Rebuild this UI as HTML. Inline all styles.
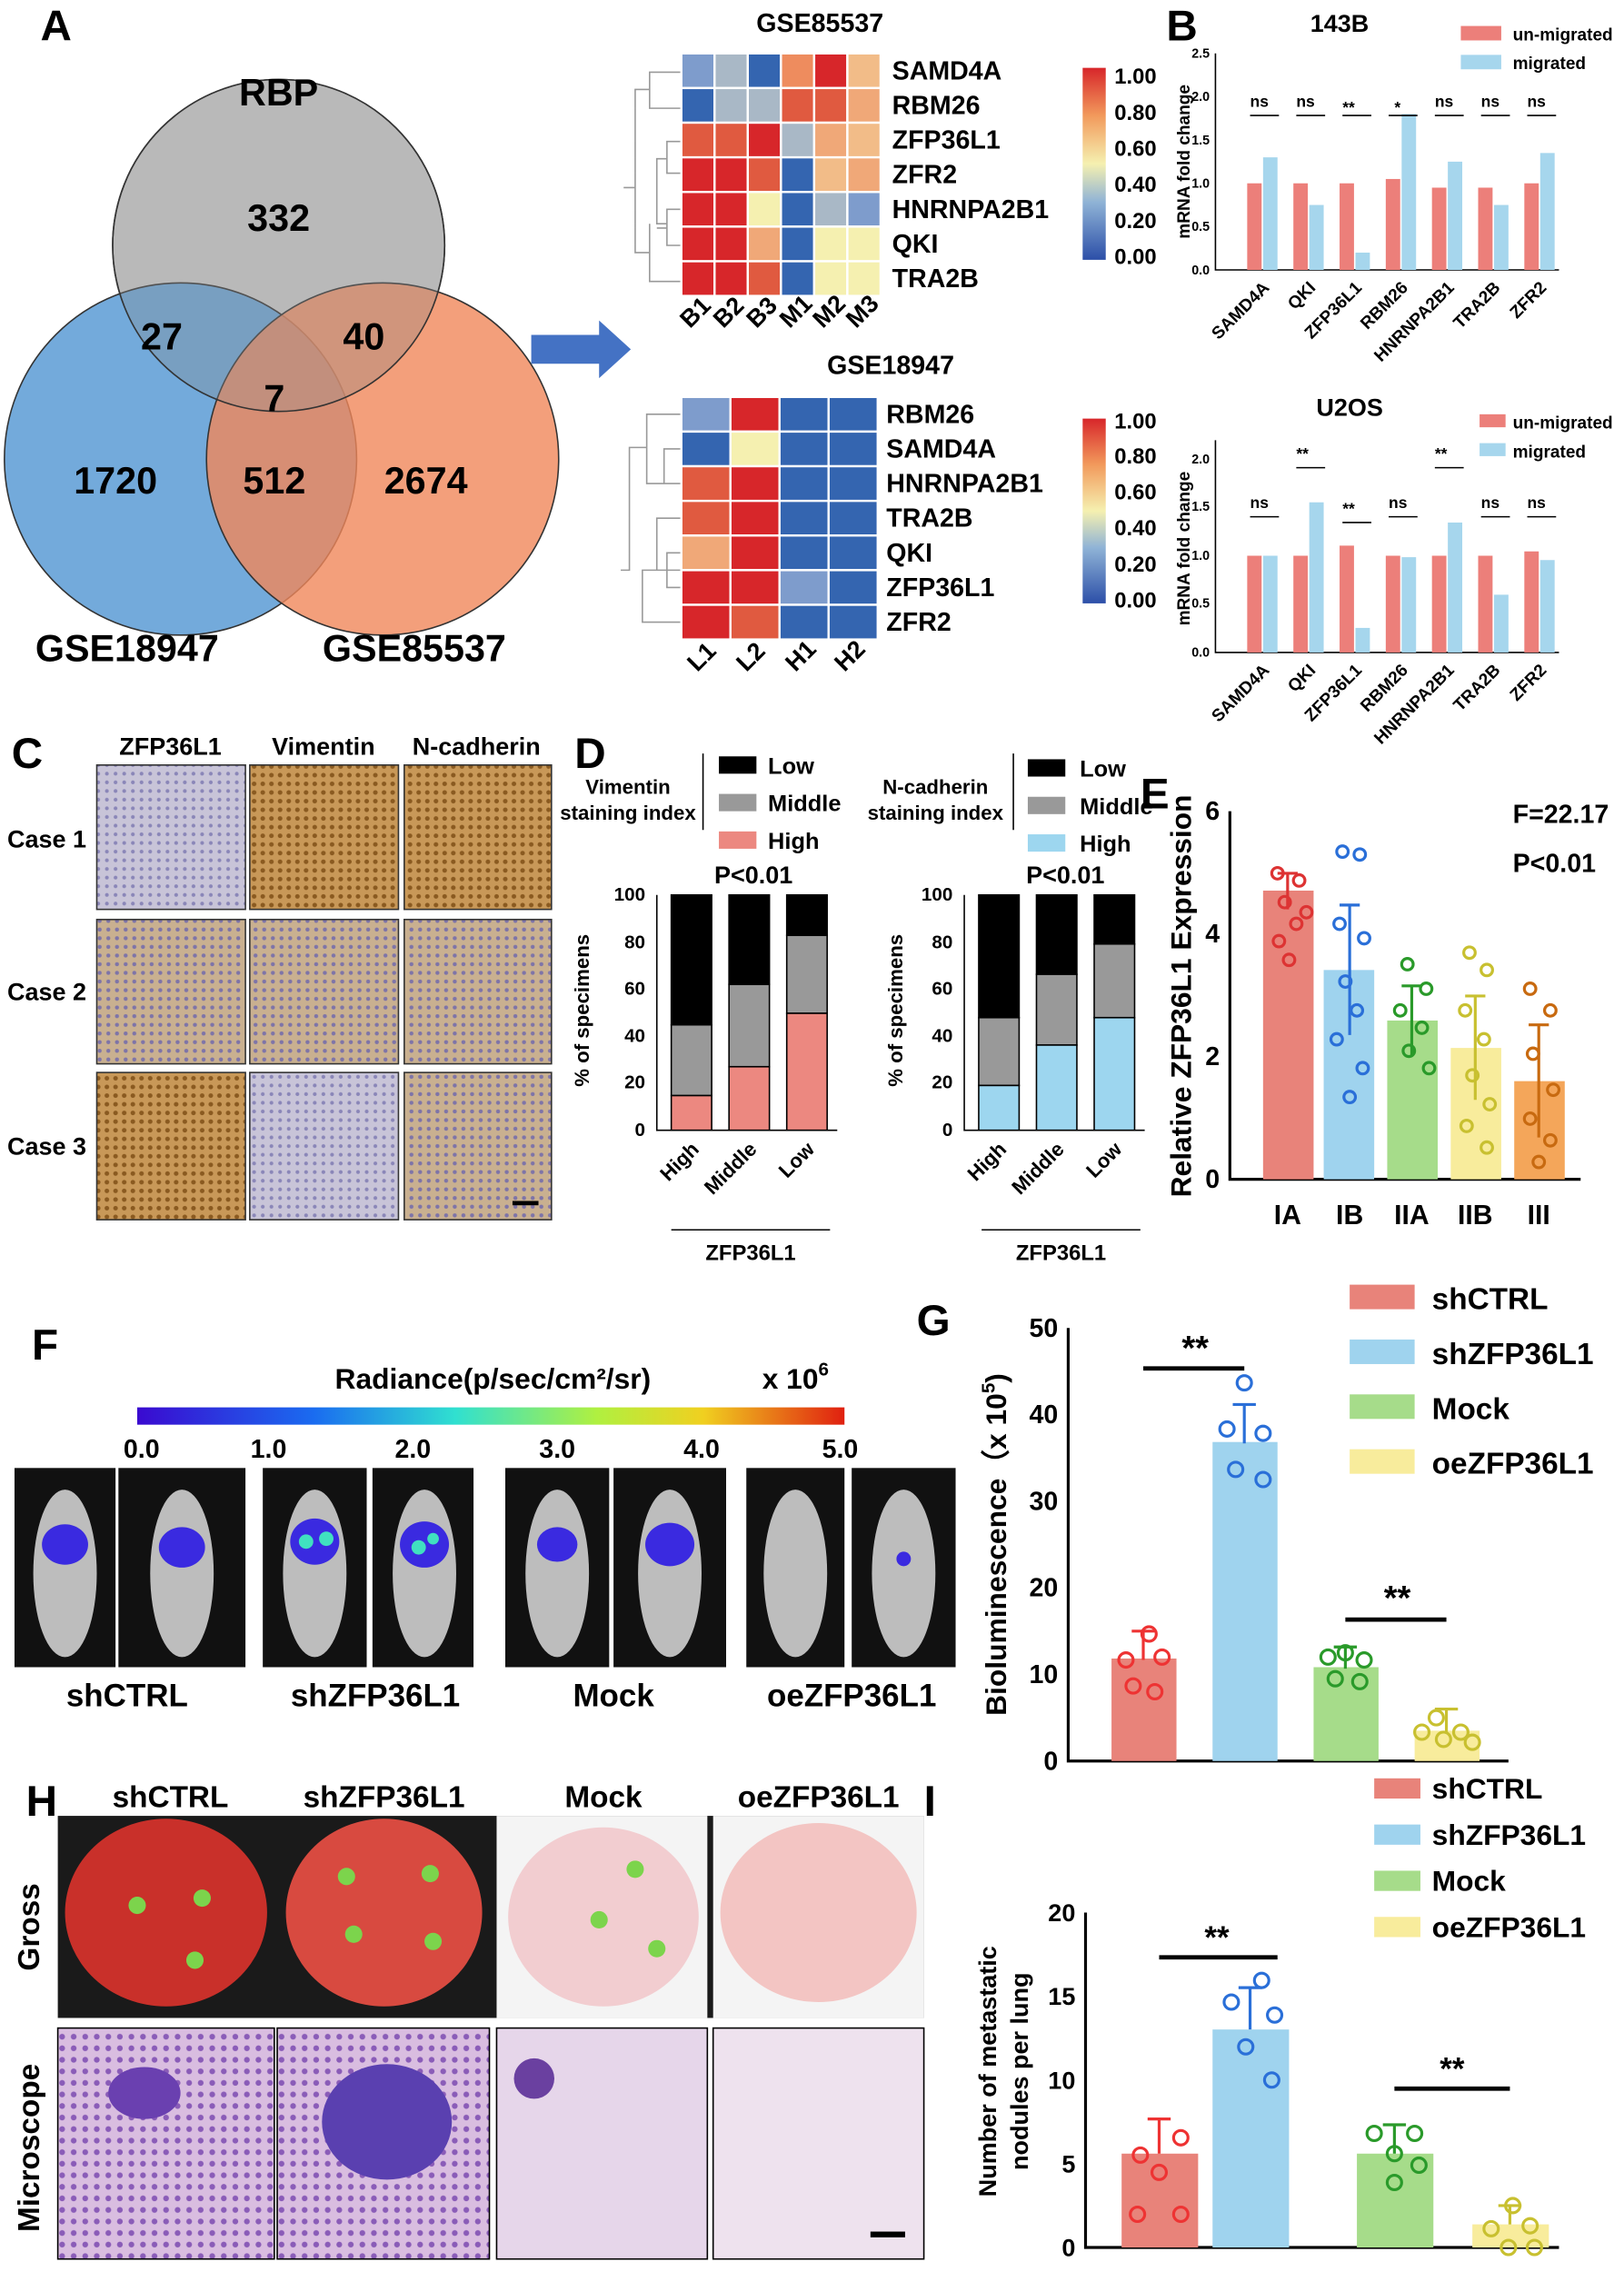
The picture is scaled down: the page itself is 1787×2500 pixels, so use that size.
<!DOCTYPE html>
<html><head><meta charset="utf-8"><style>html,body{margin:0;padding:0;background:#fff}svg{display:block}text{font-family:"Liberation Sans",sans-serif}</style></head><body>
<svg width="1787" height="2500" viewBox="0 0 1125 1574" xmlns="http://www.w3.org/2000/svg">
<defs>
<linearGradient id="cb" x1="0" y1="1" x2="0" y2="0"><stop offset="0" stop-color="#2c4fa8"/><stop offset=".3" stop-color="#8fb3d6"/><stop offset=".5" stop-color="#f5f0b0"/><stop offset=".75" stop-color="#f29a5c"/><stop offset="1" stop-color="#d7262a"/></linearGradient>
<linearGradient id="rad" x1="0" x2="1"><stop offset="0" stop-color="#3a0ad0"/><stop offset=".25" stop-color="#1a6cf0"/><stop offset=".45" stop-color="#30e0d0"/><stop offset=".65" stop-color="#b0f040"/><stop offset=".8" stop-color="#f0d020"/><stop offset="1" stop-color="#e02010"/></linearGradient>
<pattern id="ihcB" width="6" height="6" patternUnits="userSpaceOnUse"><rect width="6" height="6" fill="#c8c4d8"/><circle cx="2" cy="2" r="1.3" fill="#8a86b8"/></pattern>
<pattern id="ihcO" width="6" height="6" patternUnits="userSpaceOnUse"><rect width="6" height="6" fill="#c89858"/><circle cx="2" cy="3" r="1.6" fill="#8a5a20"/></pattern>
<pattern id="ihcM" width="6" height="6" patternUnits="userSpaceOnUse"><rect width="6" height="6" fill="#c9b090"/><circle cx="3" cy="2" r="1.4" fill="#7e74a8"/></pattern>
<pattern id="he" width="8" height="8" patternUnits="userSpaceOnUse"><rect width="8" height="8" fill="#d9bde0"/><circle cx="3" cy="3" r="2" fill="#8a5cb8"/></pattern>
</defs>
<g font-weight="bold">
<!-- A -->
<text x="28" y="28" font-size="30">A</text>
<circle cx="193" cy="170" r="115" fill="#c8c8c8" stroke="#333"/>
<circle cx="125" cy="318" r="122" fill="#5b9bd5" fill-opacity=".85" stroke="#333"/>
<circle cx="265" cy="318" r="122" fill="#f0875a" fill-opacity=".8" stroke="#333"/>
<circle cx="193" cy="170" r="115" fill="#999" fill-opacity=".3" stroke="#333"/>
<g font-size="26" text-anchor="middle">
<text x="193" y="73">RBP</text><text x="193" y="160">332</text><text x="112" y="242">27</text><text x="252" y="242">40</text><text x="190" y="285">7</text><text x="80" y="342">1720</text><text x="190" y="342">512</text><text x="295" y="342">2674</text><text x="88" y="458">GSE18947</text><text x="287" y="458">GSE85537</text></g>
<polygon points="368,232 415,232 415,222 437,242 415,262 415,252 368,252" fill="#4472c4"/>
<!-- heatmap 1 -->
<text x="568" y="22" font-size="18" text-anchor="middle">GSE85537</text>
<g stroke="#999" fill="none"><path d="M472,50 H450 V75 H472 M450,62 H440 V130 H432 M472,98 H462 V120 H472 M462,110 H455 V155 H462 M472,145 H462 V170 H472 M462,158 H455 M472,195 H450 V155 M440,130 V175 H450"/></g>
<g stroke="#fff" stroke-width="1.5">
<rect x="472" y="37" width="23" height="24" fill="#7e9ccc"/><rect x="495" y="37" width="23" height="24" fill="#a9b8c6"/><rect x="518" y="37" width="23" height="24" fill="#3465b0"/><rect x="541" y="37" width="23" height="24" fill="#ee8c5e"/><rect x="564" y="37" width="23" height="24" fill="#d7262a"/><rect x="587" y="37" width="23" height="24" fill="#f2bc88"/>
<rect x="472" y="61" width="23" height="24" fill="#3465b0"/><rect x="495" y="61" width="23" height="24" fill="#a9b8c6"/><rect x="518" y="61" width="23" height="24" fill="#a9b8c6"/><rect x="541" y="61" width="23" height="24" fill="#e05a40"/><rect x="564" y="61" width="23" height="24" fill="#e05a40"/><rect x="587" y="61" width="23" height="24" fill="#f0a878"/>
<rect x="472" y="85" width="23" height="24" fill="#e05a40"/><rect x="495" y="85" width="23" height="24" fill="#e05a40"/><rect x="518" y="85" width="23" height="24" fill="#d7262a"/><rect x="541" y="85" width="23" height="24" fill="#a9b8c6"/><rect x="564" y="85" width="23" height="24" fill="#f0a878"/><rect x="587" y="85" width="23" height="24" fill="#f2bc88"/>
<rect x="472" y="109" width="23" height="24" fill="#d7262a"/><rect x="495" y="109" width="23" height="24" fill="#d7262a"/><rect x="518" y="109" width="23" height="24" fill="#e05a40"/><rect x="541" y="109" width="23" height="24" fill="#3465b0"/><rect x="564" y="109" width="23" height="24" fill="#f2bc88"/><rect x="587" y="109" width="23" height="24" fill="#f0a878"/>
<rect x="472" y="133" width="23" height="24" fill="#d7262a"/><rect x="495" y="133" width="23" height="24" fill="#d7262a"/><rect x="518" y="133" width="23" height="24" fill="#f5f0b0"/><rect x="541" y="133" width="23" height="24" fill="#3465b0"/><rect x="564" y="133" width="23" height="24" fill="#a9b8c6"/><rect x="587" y="133" width="23" height="24" fill="#7e9ccc"/>
<rect x="472" y="157" width="23" height="24" fill="#d7262a"/><rect x="495" y="157" width="23" height="24" fill="#d7262a"/><rect x="518" y="157" width="23" height="24" fill="#f0a878"/><rect x="541" y="157" width="23" height="24" fill="#3465b0"/><rect x="564" y="157" width="23" height="24" fill="#f5f0b0"/><rect x="587" y="157" width="23" height="24" fill="#f5f0b0"/>
<rect x="472" y="181" width="23" height="24" fill="#d7262a"/><rect x="495" y="181" width="23" height="24" fill="#d7262a"/><rect x="518" y="181" width="23" height="24" fill="#e05a40"/><rect x="541" y="181" width="23" height="24" fill="#3465b0"/><rect x="564" y="181" width="23" height="24" fill="#f5f0b0"/><rect x="587" y="181" width="23" height="24" fill="#f5f0b0"/>
</g>
<g font-size="18"><text x="618" y="55">SAMD4A</text><text x="618" y="79">RBM26</text><text x="618" y="103">ZFP36L1</text><text x="618" y="127">ZFR2</text><text x="618" y="151">HNRNPA2B1</text><text x="618" y="175">QKI</text><text x="618" y="199">TRA2B</text></g>
<g font-size="17"><text transform="translate(478,228) rotate(-45)">B1</text><text transform="translate(501,228) rotate(-45)">B2</text><text transform="translate(524,228) rotate(-45)">B3</text><text transform="translate(547,228) rotate(-45)">M1</text><text transform="translate(570,228) rotate(-45)">M2</text><text transform="translate(593,228) rotate(-45)">M3</text></g>
<rect x="750" y="47" width="16" height="133" fill="url(#cb)"/>
<g font-size="15"><text x="772" y="58">1.00</text><text x="772" y="83">0.80</text><text x="772" y="108">0.60</text><text x="772" y="133">0.40</text><text x="772" y="158">0.20</text><text x="772" y="183">0.00</text></g>
<!-- heatmap 2 -->
<text x="617" y="259" font-size="18" text-anchor="middle">GSE18947</text>
<g stroke="#999" fill="none"><path d="M472,287 H448 V335 H472 M448,310 H436 V395 H430 M472,311 H460 V335 M472,359 H455 V395 H472 M472,383 H462 V407 H472 M472,431 H445 V395 H455"/></g>
<g stroke="#fff" stroke-width="1.5">
<rect x="472" y="275" width="34" height="24" fill="#7e9ccc"/><rect x="506" y="275" width="34" height="24" fill="#d7262a"/><rect x="540" y="275" width="34" height="24" fill="#3465b0"/><rect x="574" y="275" width="34" height="24" fill="#3465b0"/>
<rect x="472" y="299" width="34" height="24" fill="#3465b0"/><rect x="506" y="299" width="34" height="24" fill="#f5f0b0"/><rect x="540" y="299" width="34" height="24" fill="#3465b0"/><rect x="574" y="299" width="34" height="24" fill="#3465b0"/>
<rect x="472" y="323" width="34" height="24" fill="#e05a40"/><rect x="506" y="323" width="34" height="24" fill="#d7262a"/><rect x="540" y="323" width="34" height="24" fill="#3465b0"/><rect x="574" y="323" width="34" height="24" fill="#3465b0"/>
<rect x="472" y="347" width="34" height="24" fill="#e05a40"/><rect x="506" y="347" width="34" height="24" fill="#d7262a"/><rect x="540" y="347" width="34" height="24" fill="#3465b0"/><rect x="574" y="347" width="34" height="24" fill="#3465b0"/>
<rect x="472" y="371" width="34" height="24" fill="#f0a878"/><rect x="506" y="371" width="34" height="24" fill="#d7262a"/><rect x="540" y="371" width="34" height="24" fill="#3465b0"/><rect x="574" y="371" width="34" height="24" fill="#3465b0"/>
<rect x="472" y="395" width="34" height="24" fill="#d7262a"/><rect x="506" y="395" width="34" height="24" fill="#d7262a"/><rect x="540" y="395" width="34" height="24" fill="#7e9ccc"/><rect x="574" y="395" width="34" height="24" fill="#3465b0"/>
<rect x="472" y="419" width="34" height="24" fill="#d7262a"/><rect x="506" y="419" width="34" height="24" fill="#e05a40"/><rect x="540" y="419" width="34" height="24" fill="#3465b0"/><rect x="574" y="419" width="34" height="24" fill="#3465b0"/>
</g>
<g font-size="18"><text x="614" y="293">RBM26</text><text x="614" y="317">SAMD4A</text><text x="614" y="341">HNRNPA2B1</text><text x="614" y="365">TRA2B</text><text x="614" y="389">QKI</text><text x="614" y="413">ZFP36L1</text><text x="614" y="437">ZFR2</text></g>
<g font-size="17"><text transform="translate(483,466) rotate(-45)">L1</text><text transform="translate(517,466) rotate(-45)">L2</text><text transform="translate(551,466) rotate(-45)">H1</text><text transform="translate(585,466) rotate(-45)">H2</text></g>
<rect x="750" y="290" width="16" height="128" fill="url(#cb)"/>
<g font-size="15"><text x="772" y="297">1.00</text><text x="772" y="321">0.80</text><text x="772" y="346">0.60</text><text x="772" y="371">0.40</text><text x="772" y="396">0.20</text><text x="772" y="421">0.00</text></g>
<!-- B -->
<text x="808" y="28" font-size="30">B</text>
<text x="928" y="22" font-size="17" text-anchor="middle">143B</text>
<text x="935" y="288" font-size="17" text-anchor="middle">U2OS</text>
<g font-size="12"><rect x="1012" y="18" width="28" height="10" fill="#ec7f7a"/><text x="1048" y="28">un-migrated</text><rect x="1012" y="38" width="28" height="10" fill="#a6d6ed"/><text x="1048" y="48">migrated</text>
<rect x="1025" y="287" width="18" height="9" fill="#ec7f7a"/><text x="1048" y="297">un-migrated</text><rect x="1025" y="307" width="18" height="9" fill="#a6d6ed"/><text x="1048" y="317">migrated</text></g>
<g>
<path d="M842,37 V187 H1080" stroke="#000" fill="none"/>
<g font-size="9" text-anchor="end"><text x="838" y="190">0.0</text><text x="838" y="160">0.5</text><text x="838" y="130">1.0</text><text x="838" y="100">1.5</text><text x="838" y="70">2.0</text><text x="838" y="40">2.5</text></g>
<text transform="translate(824,112) rotate(-90)" font-size="12" text-anchor="middle">mRNA fold change</text>
<g fill="#ec7f7a"><rect x="864" y="127" width="10" height="60"/><rect x="896" y="127" width="10" height="60"/><rect x="928" y="127" width="10" height="60"/><rect x="960" y="124" width="10" height="63"/><rect x="992" y="130" width="10" height="57"/><rect x="1024" y="130" width="10" height="57"/><rect x="1056" y="127" width="10" height="60"/></g>
<g fill="#a6d6ed"><rect x="875" y="109" width="10" height="78"/><rect x="907" y="142" width="10" height="45"/><rect x="939" y="175" width="10" height="12"/><rect x="971" y="79" width="10" height="108"/><rect x="1003" y="112" width="10" height="75"/><rect x="1035" y="142" width="10" height="45"/><rect x="1067" y="106" width="10" height="81"/></g>
<g font-size="11"><text x="866" y="74">ns</text><text x="898" y="74">ns</text><text x="930" y="78">**</text><text x="966" y="78">*</text><text x="994" y="74">ns</text><text x="1026" y="74">ns</text><text x="1058" y="74">ns</text></g>
<g stroke="#000"><path d="M866,80h20M898,80h20M930,80h20M962,80h20M994,80h20M1026,80h20M1058,80h20"/></g>
<g font-size="12" text-anchor="end"><text transform="translate(880,200) rotate(-45)">SAMD4A</text><text transform="translate(912,200) rotate(-45)">QKI</text><text transform="translate(944,200) rotate(-45)">ZFP36L1</text><text transform="translate(976,200) rotate(-45)">RBM26</text><text transform="translate(1008,200) rotate(-45)">HNRNPA2B1</text><text transform="translate(1040,200) rotate(-45)">TRA2B</text><text transform="translate(1072,200) rotate(-45)">ZFR2</text></g>
</g>
<g>
<path d="M842,305 V452 H1080" stroke="#000" fill="none"/>
<g font-size="9" text-anchor="end"><text x="838" y="455">0.0</text><text x="838" y="421">0.5</text><text x="838" y="388">1.0</text><text x="838" y="354">1.5</text><text x="838" y="321">2.0</text></g>
<text transform="translate(824,380) rotate(-90)" font-size="12" text-anchor="middle">mRNA fold change</text>
<g fill="#ec7f7a"><rect x="864" y="385" width="10" height="67"/><rect x="896" y="385" width="10" height="67"/><rect x="928" y="378" width="10" height="74"/><rect x="960" y="385" width="10" height="67"/><rect x="992" y="385" width="10" height="67"/><rect x="1024" y="385" width="10" height="67"/><rect x="1056" y="382" width="10" height="70"/></g>
<g fill="#a6d6ed"><rect x="875" y="385" width="10" height="67"/><rect x="907" y="348" width="10" height="104"/><rect x="939" y="435" width="10" height="17"/><rect x="971" y="386" width="10" height="66"/><rect x="1003" y="362" width="10" height="90"/><rect x="1035" y="412" width="10" height="40"/><rect x="1067" y="388" width="10" height="64"/></g>
<g font-size="11"><text x="866" y="352">ns</text><text x="898" y="318">**</text><text x="930" y="356">**</text><text x="962" y="352">ns</text><text x="994" y="318">**</text><text x="1026" y="352">ns</text><text x="1058" y="352">ns</text></g>
<g stroke="#000"><path d="M866,358h20M898,324h20M930,362h20M962,358h20M994,324h20M1026,358h20M1058,358h20"/></g>
<g font-size="12" text-anchor="end"><text transform="translate(880,465) rotate(-45)">SAMD4A</text><text transform="translate(912,465) rotate(-45)">QKI</text><text transform="translate(944,465) rotate(-45)">ZFP36L1</text><text transform="translate(976,465) rotate(-45)">RBM26</text><text transform="translate(1008,465) rotate(-45)">HNRNPA2B1</text><text transform="translate(1040,465) rotate(-45)">TRA2B</text><text transform="translate(1072,465) rotate(-45)">ZFR2</text></g>
</g>
<!-- C -->
<text x="8" y="532" font-size="30">C</text>
<g font-size="17" text-anchor="middle"><text x="118" y="523">ZFP36L1</text><text x="224" y="523">Vimentin</text><text x="330" y="523">N-cadherin</text></g>
<g font-size="17"><text x="5" y="587">Case 1</text><text x="5" y="693">Case 2</text><text x="5" y="800">Case 3</text></g>
<g stroke="#333">
<rect x="67" y="530" width="103" height="100" fill="url(#ihcB)"/><rect x="173" y="530" width="103" height="100" fill="url(#ihcO)"/><rect x="280" y="530" width="102" height="100" fill="url(#ihcO)"/>
<rect x="67" y="637" width="103" height="100" fill="url(#ihcM)"/><rect x="173" y="637" width="103" height="100" fill="url(#ihcM)"/><rect x="280" y="637" width="102" height="100" fill="url(#ihcM)"/>
<rect x="67" y="743" width="103" height="102" fill="url(#ihcO)"/><rect x="173" y="743" width="103" height="102" fill="url(#ihcB)"/><rect x="280" y="743" width="102" height="102" fill="url(#ihcM)"/>
</g>
<rect x="355" y="832" width="18" height="3" fill="#000"/>
<!-- D -->
<text x="398" y="532" font-size="30">D</text>
<g font-size="14" text-anchor="middle"><text x="435" y="550">Vimentin</text><text x="435" y="568">staining index</text><text x="648" y="550">N-cadherin</text><text x="648" y="568">staining index</text></g>
<path d="M487,522 V575 M702,522 V575" stroke="#000"/>
<g font-size="16"><rect x="498" y="524" width="26" height="12" fill="#000"/><text x="532" y="536">Low</text><rect x="498" y="550" width="26" height="12" fill="#999"/><text x="532" y="562">Middle</text><rect x="498" y="576" width="26" height="12" fill="#ec8880"/><text x="532" y="588">High</text>
<rect x="712" y="526" width="26" height="12" fill="#000"/><text x="748" y="538">Low</text><rect x="712" y="552" width="26" height="12" fill="#999"/><text x="748" y="564">Middle</text><rect x="712" y="578" width="26" height="12" fill="#9dd6ef"/><text x="748" y="590">High</text></g>
<g font-size="17" text-anchor="middle"><text x="522" y="612">P&lt;0.01</text><text x="738" y="612">P&lt;0.01</text></g>
<g font-size="13" text-anchor="end"><text x="447" y="624">100</text><text x="447" y="657">80</text><text x="447" y="689">60</text><text x="447" y="722">40</text><text x="447" y="754">20</text><text x="447" y="787">0</text>
<text x="660" y="624">100</text><text x="660" y="657">80</text><text x="660" y="689">60</text><text x="660" y="722">40</text><text x="660" y="754">20</text><text x="660" y="787">0</text></g>
<text transform="translate(408,700) rotate(-90)" font-size="14" text-anchor="middle">% of specimens</text>
<text transform="translate(625,700) rotate(-90)" font-size="14" text-anchor="middle">% of specimens</text>
<path d="M455,620 V783 H580 M668,620 V783 H793" stroke="#000" fill="none"/>
<g stroke="#000"><rect x="465" y="620" width="28" height="90" fill="#000"/><rect x="465" y="710" width="28" height="49" fill="#999"/><rect x="465" y="759" width="28" height="24" fill="#ec8880"/>
<rect x="505" y="620" width="28" height="62" fill="#000"/><rect x="505" y="682" width="28" height="57" fill="#999"/><rect x="505" y="739" width="28" height="44" fill="#ec8880"/>
<rect x="545" y="620" width="28" height="28" fill="#000"/><rect x="545" y="648" width="28" height="54" fill="#999"/><rect x="545" y="702" width="28" height="81" fill="#ec8880"/>
<rect x="678" y="620" width="28" height="85" fill="#000"/><rect x="678" y="705" width="28" height="47" fill="#999"/><rect x="678" y="752" width="28" height="31" fill="#9dd6ef"/>
<rect x="718" y="620" width="28" height="55" fill="#000"/><rect x="718" y="675" width="28" height="49" fill="#999"/><rect x="718" y="724" width="28" height="59" fill="#9dd6ef"/>
<rect x="758" y="620" width="28" height="34" fill="#000"/><rect x="758" y="654" width="28" height="51" fill="#999"/><rect x="758" y="705" width="28" height="78" fill="#9dd6ef"/></g>
<g font-size="14" text-anchor="end"><text transform="translate(485,797) rotate(-45)">High</text><text transform="translate(525,797) rotate(-45)">Middle</text><text transform="translate(565,797) rotate(-45)">Low</text><text transform="translate(698,797) rotate(-45)">High</text><text transform="translate(738,797) rotate(-45)">Middle</text><text transform="translate(778,797) rotate(-45)">Low</text></g>
<path d="M465,852 H575 M680,852 H790" stroke="#000"/>
<g font-size="15" text-anchor="middle"><text x="520" y="873">ZFP36L1</text><text x="735" y="873">ZFP36L1</text></g>
<!-- E -->
<text x="790" y="560" font-size="30">E</text>
<text transform="translate(825,690) rotate(-90)" font-size="20" text-anchor="middle">Relative ZFP36L1 Expression</text>
<path d="M852,562 V817 H1095" stroke="#000" stroke-width="2" fill="none"/>
<g font-size="18" text-anchor="end"><text x="845" y="568">6</text><text x="845" y="653">4</text><text x="845" y="738">2</text><text x="845" y="823">0</text></g>
<text x="1048" y="570" font-size="18">F=22.17</text><text x="1048" y="604" font-size="18">P&lt;0.01</text>
<rect x="875" y="617" width="35" height="200" fill="#e8837a"/><rect x="917" y="672" width="35" height="145" fill="#9fd3ee"/><rect x="961" y="707" width="35" height="110" fill="#a6dc8a"/><rect x="1005" y="726" width="35" height="91" fill="#f8ec9c"/><rect x="1049" y="749" width="35" height="68" fill="#f4a65a"/>
<g stroke-width="2" fill="none"><path d="M892,605 V630 M885,605h14" stroke="#d33"/><path d="M935,627 V717 M928,627h14" stroke="#2a6fd8"/><path d="M978,683 V731 M971,683h14" stroke="#2a9a2a"/><path d="M1022,690 V762 M1015,690h14" stroke="#c8c030"/><path d="M1066,710 V788 M1059,710h14" stroke="#c86a10"/>
<g stroke="#d33"><circle cx="885" cy="605" r="4"/><circle cx="900" cy="610" r="4"/><circle cx="890" cy="625" r="4"/><circle cx="898" cy="640" r="4"/><circle cx="886" cy="652" r="4"/><circle cx="893" cy="665" r="4"/><circle cx="905" cy="632" r="4"/></g>
<g stroke="#2a6fd8"><circle cx="930" cy="590" r="4"/><circle cx="942" cy="592" r="4"/><circle cx="928" cy="640" r="4"/><circle cx="945" cy="650" r="4"/><circle cx="932" cy="680" r="4"/><circle cx="940" cy="700" r="4"/><circle cx="926" cy="720" r="4"/><circle cx="944" cy="740" r="4"/><circle cx="935" cy="760" r="4"/></g>
<g stroke="#2a9a2a"><circle cx="975" cy="668" r="4"/><circle cx="988" cy="685" r="4"/><circle cx="970" cy="700" r="4"/><circle cx="985" cy="712" r="4"/><circle cx="976" cy="728" r="4"/><circle cx="990" cy="740" r="4"/></g>
<g stroke="#c8c030"><circle cx="1018" cy="660" r="4"/><circle cx="1030" cy="672" r="4"/><circle cx="1015" cy="700" r="4"/><circle cx="1028" cy="720" r="4"/><circle cx="1020" cy="745" r="4"/><circle cx="1032" cy="765" r="4"/><circle cx="1016" cy="780" r="4"/><circle cx="1030" cy="795" r="4"/></g>
<g stroke="#c86a10"><circle cx="1060" cy="685" r="4"/><circle cx="1074" cy="700" r="4"/><circle cx="1062" cy="730" r="4"/><circle cx="1076" cy="755" r="4"/><circle cx="1060" cy="775" r="4"/><circle cx="1074" cy="790" r="4"/><circle cx="1066" cy="805" r="4"/></g></g>
<g font-size="19" text-anchor="middle"><text x="892" y="848">IA</text><text x="935" y="848">IB</text><text x="978" y="848">IIA</text><text x="1022" y="848">IIB</text><text x="1066" y="848">III</text></g>
<!-- F -->
<text x="22" y="942" font-size="30">F</text>
<text x="232" y="962" font-size="20">Radiance(p/sec/cm²/sr)</text><text x="528" y="962" font-size="20">x 10<tspan font-size="13" dy="-9">6</tspan></text>
<rect x="95" y="975" width="490" height="12" fill="url(#rad)"/>
<g font-size="18" text-anchor="middle"><text x="98" y="1010">0.0</text><text x="186" y="1010">1.0</text><text x="286" y="1010">2.0</text><text x="386" y="1010">3.0</text><text x="486" y="1010">4.0</text><text x="582" y="1010">5.0</text></g>
<g fill="#111">
<rect x="10" y="1017" width="70" height="138"/><rect x="82" y="1017" width="88" height="138"/><rect x="182" y="1017" width="72" height="138"/><rect x="258" y="1017" width="70" height="138"/><rect x="350" y="1017" width="72" height="138"/><rect x="425" y="1017" width="78" height="138"/><rect x="517" y="1017" width="68" height="138"/><rect x="590" y="1017" width="72" height="138"/></g>
<g fill="#bdbdbd"><ellipse cx="45" cy="1090" rx="22" ry="58"/><ellipse cx="126" cy="1090" rx="22" ry="58"/><ellipse cx="218" cy="1090" rx="22" ry="58"/><ellipse cx="294" cy="1090" rx="22" ry="58"/><ellipse cx="386" cy="1090" rx="22" ry="58"/><ellipse cx="464" cy="1090" rx="22" ry="58"/><ellipse cx="551" cy="1090" rx="22" ry="58"/><ellipse cx="626" cy="1090" rx="22" ry="58"/></g>
<g fill="#3a2ae0"><ellipse cx="45" cy="1070" rx="16" ry="14"/><ellipse cx="126" cy="1072" rx="16" ry="14"/><ellipse cx="218" cy="1068" rx="17" ry="16"/><ellipse cx="294" cy="1070" rx="17" ry="16"/><ellipse cx="386" cy="1070" rx="14" ry="12"/><ellipse cx="464" cy="1070" rx="17" ry="15"/><ellipse cx="626" cy="1080" rx="5" ry="5"/></g>
<g fill="#40e0c0"><circle cx="212" cy="1068" r="5"/><circle cx="226" cy="1066" r="5"/><circle cx="290" cy="1072" r="5"/><circle cx="300" cy="1066" r="4"/></g>
<g font-size="22" text-anchor="middle"><text x="88" y="1182">shCTRL</text><text x="260" y="1182">shZFP36L1</text><text x="425" y="1182">Mock</text><text x="590" y="1182">oeZFP36L1</text></g>
<!-- G -->
<text x="635" y="925" font-size="30">G</text>
<text transform="translate(697,1070) rotate(-90)" font-size="20" text-anchor="middle">Bioluminescence（x 10<tspan font-size="13" dy="-8">5</tspan><tspan dy="8">)</tspan></text>
<path d="M740,920 V1220 H1045" stroke="#000" stroke-width="2" fill="none"/>
<g font-size="18" text-anchor="end"><text x="733" y="926">50</text><text x="733" y="986">40</text><text x="733" y="1046">30</text><text x="733" y="1106">20</text><text x="733" y="1166">10</text><text x="733" y="1226">0</text></g>
<g font-size="21"><rect x="935" y="890" width="45" height="17" fill="#e8837a"/><text x="992" y="907">shCTRL</text><rect x="935" y="928" width="45" height="17" fill="#9fd3ee"/><text x="992" y="945">shZFP36L1</text><rect x="935" y="966" width="45" height="17" fill="#a6dc8a"/><text x="992" y="983">Mock</text><rect x="935" y="1004" width="45" height="17" fill="#f8ec9c"/><text x="992" y="1021">oeZFP36L1</text></g>
<rect x="770" y="1149" width="45" height="71" fill="#e8837a"/><rect x="840" y="999" width="45" height="221" fill="#9fd3ee"/><rect x="910" y="1155" width="45" height="65" fill="#a6dc8a"/><rect x="980" y="1199" width="45" height="21" fill="#f8ec9c"/>
<g stroke-width="2" fill="none"><path d="M792,1130 V1150 M784,1130h16" stroke="#e33"/><path d="M862,973 V1000 M854,973h16" stroke="#2a6fd8"/><path d="M932,1141 V1156 M924,1141h16" stroke="#2a9a2a"/><path d="M1002,1184 V1200 M994,1184h16" stroke="#c8c030"/>
<g stroke="#e33"><circle cx="780" cy="1150" r="5"/><circle cx="796" cy="1132" r="5"/><circle cx="805" cy="1148" r="5"/><circle cx="785" cy="1168" r="5"/><circle cx="800" cy="1172" r="5"/></g>
<g stroke="#2a6fd8"><circle cx="862" cy="958" r="5"/><circle cx="850" cy="990" r="5"/><circle cx="875" cy="993" r="5"/><circle cx="856" cy="1018" r="5"/><circle cx="875" cy="1025" r="5"/></g>
<g stroke="#2a9a2a"><circle cx="920" cy="1148" r="5"/><circle cx="932" cy="1145" r="5"/><circle cx="945" cy="1150" r="5"/><circle cx="925" cy="1163" r="5"/><circle cx="942" cy="1165" r="5"/></g>
<g stroke="#c8c030"><circle cx="995" cy="1190" r="5"/><circle cx="985" cy="1200" r="5"/><circle cx="1000" cy="1205" r="5"/><circle cx="1012" cy="1200" r="5"/><circle cx="1020" cy="1207" r="5"/></g></g>
<path d="M792,948 H862 M932,1122 H1002" stroke="#000" stroke-width="3"/>
<g font-size="24" text-anchor="middle"><text x="828" y="942">**</text><text x="968" y="1115">**</text></g>
<!-- H -->
<text x="18" y="1258" font-size="30">H</text>
<g font-size="21" text-anchor="middle"><text x="118" y="1252">shCTRL</text><text x="266" y="1252">shZFP36L1</text><text x="418" y="1252">Mock</text><text x="567" y="1252">oeZFP36L1</text></g>
<text transform="translate(27,1335) rotate(-90)" font-size="21" text-anchor="middle">Gross</text>
<text transform="translate(27,1488) rotate(-90)" font-size="21" text-anchor="middle">Microscope</text>
<rect x="40" y="1258" width="600" height="140" fill="#1a1a1a"/>
<ellipse cx="115" cy="1325" rx="70" ry="65" fill="#c9302a"/><ellipse cx="266" cy="1325" rx="68" ry="65" fill="#d84a40"/>
<rect x="344" y="1258" width="146" height="140" fill="#f4f4f4"/><ellipse cx="418" cy="1328" rx="66" ry="62" fill="#f2cdd0"/>
<rect x="494" y="1258" width="146" height="140" fill="#f4f4f4"/><ellipse cx="567" cy="1325" rx="68" ry="62" fill="#f3c5c3"/>
<g fill="#7cd44c"><circle cx="95" cy="1320" r="6"/><circle cx="140" cy="1315" r="6"/><circle cx="135" cy="1358" r="6"/><circle cx="240" cy="1300" r="6"/><circle cx="298" cy="1298" r="6"/><circle cx="245" cy="1340" r="6"/><circle cx="300" cy="1345" r="6"/><circle cx="440" cy="1295" r="6"/><circle cx="415" cy="1330" r="6"/><circle cx="455" cy="1350" r="6"/></g>
<rect x="40" y="1405" width="150" height="160" fill="url(#he)" stroke="#000"/><rect x="192" y="1405" width="147" height="160" fill="url(#he)" stroke="#000"/><rect x="344" y="1405" width="146" height="160" fill="#e6d6ea" stroke="#000"/><rect x="494" y="1405" width="146" height="160" fill="#eee2ee" stroke="#000"/>
<ellipse cx="268" cy="1470" rx="45" ry="40" fill="#5a40b0"/><ellipse cx="100" cy="1450" rx="25" ry="18" fill="#6a40b0"/><ellipse cx="370" cy="1440" rx="14" ry="14" fill="#6a40a0"/>
<rect x="603" y="1546" width="24" height="4" fill="#000"/>
<!-- I -->
<text x="640" y="1258" font-size="30">I</text>
<g font-size="20"><rect x="952" y="1232" width="32" height="14" fill="#e8837a"/><text x="992" y="1246">shCTRL</text><rect x="952" y="1264" width="32" height="14" fill="#9fd3ee"/><text x="992" y="1278">shZFP36L1</text><rect x="952" y="1296" width="32" height="14" fill="#a6dc8a"/><text x="992" y="1310">Mock</text><rect x="952" y="1328" width="32" height="14" fill="#f8ec9c"/><text x="992" y="1342">oeZFP36L1</text></g>
<text transform="translate(690,1435) rotate(-90)" font-size="17" text-anchor="middle">Number of metastatic</text>
<text transform="translate(712,1435) rotate(-90)" font-size="17" text-anchor="middle">nodules per lung</text>
<path d="M752,1325 V1557 H1080" stroke="#000" stroke-width="2" fill="none"/>
<g font-size="17" text-anchor="end"><text x="745" y="1331">20</text><text x="745" y="1389">15</text><text x="745" y="1447">10</text><text x="745" y="1505">5</text><text x="745" y="1563">0</text></g>
<rect x="777" y="1492" width="53" height="65" fill="#e8837a"/><rect x="840" y="1406" width="53" height="151" fill="#9fd3ee"/><rect x="940" y="1492" width="53" height="65" fill="#a6dc8a"/><rect x="1020" y="1541" width="53" height="16" fill="#f8ec9c"/>
<g stroke-width="2" fill="none"><path d="M803,1468 V1492 M795,1468h16" stroke="#e33"/><path d="M866,1377 V1406 M858,1377h16" stroke="#2a6fd8"/><path d="M966,1472 V1492 M958,1472h16" stroke="#2a9a2a"/><path d="M1046,1528 V1541 M1038,1528h16" stroke="#c8c030"/>
<g stroke="#e33"><circle cx="790" cy="1493" r="5"/><circle cx="818" cy="1481" r="5"/><circle cx="803" cy="1505" r="5"/><circle cx="788" cy="1534" r="5"/><circle cx="818" cy="1534" r="5"/></g>
<g stroke="#2a6fd8"><circle cx="874" cy="1372" r="5"/><circle cx="853" cy="1387" r="5"/><circle cx="883" cy="1396" r="5"/><circle cx="863" cy="1418" r="5"/><circle cx="881" cy="1441" r="5"/></g>
<g stroke="#2a9a2a"><circle cx="952" cy="1478" r="5"/><circle cx="980" cy="1478" r="5"/><circle cx="966" cy="1492" r="5"/><circle cx="966" cy="1512" r="5"/><circle cx="983" cy="1500" r="5"/></g>
<g stroke="#c8c030"><circle cx="1048" cy="1528" r="5"/><circle cx="1033" cy="1544" r="5"/><circle cx="1060" cy="1542" r="5"/><circle cx="1045" cy="1557" r="5"/><circle cx="1063" cy="1557" r="5"/></g></g>
<path d="M803,1356 H885 M966,1447 H1046" stroke="#000" stroke-width="3"/>
<g font-size="22" text-anchor="middle"><text x="843" y="1350">**</text><text x="1006" y="1441">**</text></g>
</g>
</svg>
</body></html>
